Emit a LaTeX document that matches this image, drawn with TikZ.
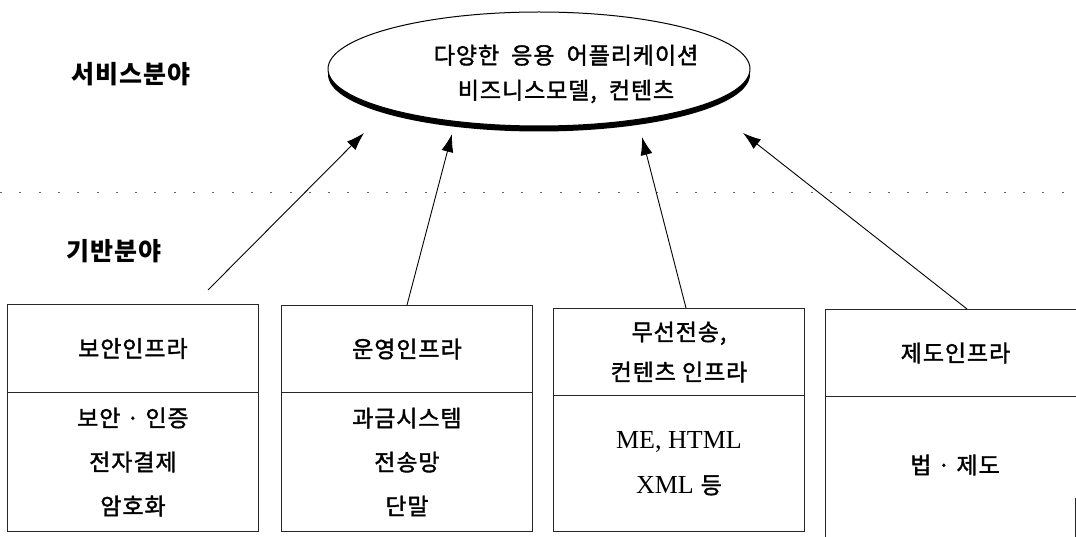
\documentclass[tikz,border=0pt]{standalone}
\usepackage{fontspec}
\setmainfont{Noto Sans CJK KR}[UprightFeatures={FakeBold=1.6},LetterSpace=4]
\newfontfamily\lat{Liberation Serif}
\usetikzlibrary{arrows.meta,shapes.geometric,shadows}
\begin{document}
\begin{tikzpicture}[x=1pt,y=-1pt,
  box/.style={draw=black!85,line width=0.9pt,minimum width=251pt,inner sep=0pt,
              anchor=north west,align=center,font=\fontsize{23}{44}\selectfont},
  arr/.style={-{Latex[length=18pt,width=12pt]},line width=0.9pt},
  lbl/.style={font=\fontsize{25}{28}\selectfont\bfseries},
  dotline/.style={line width=1pt,black!60,dash pattern=on 2pt off 17.3pt},
  app/.style={ellipse,draw,line width=1pt,fill=white,minimum width=422pt,minimum height=114pt,
              drop shadow={shadow xshift=0pt,shadow yshift=-5.5pt,fill=black,opacity=1}}]
\useasboundingbox (0,0) rectangle (1076,537);
\clip (0,0) rectangle (1076,537);

% separator
\coordinate (dl) at (0,193);
\coordinate (dr) at (1076,193);
\draw[dotline] (dl) -- (dr);

% labels
\node[lbl] (svc) at (131,74) {서비스분야};
\node[lbl] (base) at (114,251) {기반분야};

% ellipse
\node[app] (app) at (539,69) {};
\node[align=center,font=\fontsize{23}{35}\selectfont] (apptext) at (566,74)
  {다양한 \ 응용 \ 어플리케이션\\비즈니스모델, \ 컨텐츠};

% boxes
\node[box,minimum height=88pt] (b1t) at (7,304) {보안인프라};
\node[box,minimum height=139pt] (b1b) at (7,392) {보안 · 인증\\전자결제\\암호화};

\node[box,minimum height=87pt] (b2t) at (281,305) {운영인프라};
\node[box,minimum height=139pt] (b2b) at (281,392) {과금시스템\\전송망\\단말};

\node[box,minimum height=87pt,font=\fontsize{23}{40}\selectfont] (b3t) at (553,308) {무선전송,\\컨텐츠 인프라};
\node[box,minimum height=136pt,font=\fontsize{26}{45}\selectfont] (b3b) at (553,395) {{\lat ME, HTML}\\{\lat XML} \fontsize{23}{45}\selectfont 등};

\node[box,minimum width=260pt,minimum height=87pt] (b4t) at (825,309) {제도인프라};
\node[box,minimum width=260pt,minimum height=150pt] (b4b) at (825,396) {};
\node[font=\fontsize{23}{26}\selectfont] (t4) at (955,465) {법 · 제도};
\coordinate (e1) at (1075,498);
\coordinate (e2) at (1075,537);
\draw[black!85,line width=0.9pt] (e1) -- (e2);

% arrows
\coordinate (s1) at (208,290);  \coordinate (h1) at (364,133);
\coordinate (s2) at (407,305);  \coordinate (h2) at (452,134);
\coordinate (s3) at (686,308);  \coordinate (h3) at (642,137);
\coordinate (s4) at (967,309);  \coordinate (h4) at (743,133);
\draw[arr] (s1) -- (h1);
\draw[arr] (s2) -- (h2);
\draw[arr] (s3) -- (h3);
\draw[arr] (s4) -- (h4);
\end{tikzpicture}
\end{document}
